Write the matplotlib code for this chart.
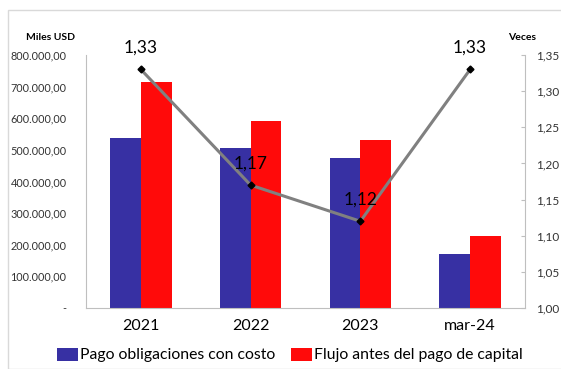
import matplotlib.pyplot as plt
import matplotlib.ticker as mticker
import numpy as np
from matplotlib.patches import Rectangle

plt.rcParams['font.family'] = ['Lato', 'DejaVu Sans']

categories = ['2021', '2022', '2023', 'mar-24']
pago = [538000, 506000, 475000, 171000]
flujo = [715000, 592000, 532000, 228000]
veces = [1.33, 1.17, 1.12, 1.33]
veces_labels = ['1,33', '1,17', '1,12', '1,33']

blue = '#3730a3'
red = '#ff0a0a'

fig = plt.figure(figsize=(5.61, 3.69), dpi=100)
ax = fig.add_axes([86 / 561, 1 - 308 / 369, (525 - 86) / 561, (308 - 55) / 369])

x = np.arange(len(categories))
w = 0.28
ax.bar(x - w / 2, pago, w, color=blue, label='Pago obligaciones con costo')
ax.bar(x + w / 2, flujo, w, color=red, label='Flujo antes del pago de capital')
ax.set_xlim(-0.5, 3.5)
ax.set_ylim(0, 800000)
ax.set_xticks(x)
ax.set_xticklabels(categories, fontsize=11.5)
ax.set_yticks(np.arange(0, 800001, 100000))


def fmt_left(v, pos):
    if v == 0:
        return '-'
    s = '{:,.2f}'.format(v)
    return s.replace(',', 'X').replace('.', ',').replace('X', '.')


ax.yaxis.set_major_formatter(mticker.FuncFormatter(fmt_left))
ax.tick_params(axis='y', length=0, labelsize=7.8, colors='#333333', pad=14)
ax.tick_params(axis='x', length=0, pad=8)
for s in ['top', 'right']:
    ax.spines[s].set_visible(False)
ax.spines['left'].set_color('#bfbfbf')
ax.spines['bottom'].set_color('#bfbfbf')

ax2 = ax.twinx()
ax2.plot(x, veces, color='#808080', lw=2.2, marker='D', markersize=3.5,
         markerfacecolor='black', markeredgecolor='black')
ax2.set_ylim(1.0, 1.35)
ax2.set_yticks(np.arange(1.0, 1.351, 0.05))
ax2.yaxis.set_major_formatter(mticker.FuncFormatter(lambda v, p: '{:.2f}'.format(v).replace('.', ',')))
ax2.tick_params(axis='y', direction='in', length=3, color='#bfbfbf', labelsize=8.5, colors='#333333', pad=8)
for s in ['top', 'left', 'bottom']:
    ax2.spines[s].set_visible(False)
ax2.spines['right'].set_color('#bfbfbf')
for xi, v, lab in zip(x, veces, veces_labels):
    ax2.annotate(lab, (xi, v), xytext=(0, 10), textcoords='offset points',
                 ha='center', va='bottom', fontsize=12.5)

fig.text(75 / 561, 1 - 38 / 369, 'Miles USD', fontsize=7.5, fontweight='bold', ha='right', va='center')
fig.text(508 / 561, 1 - 38 / 369, 'Veces', fontsize=7.5, fontweight='bold', ha='left', va='center')

h1, l1 = ax.get_legend_handles_labels()
fig.legend(h1, l1, loc='center', bbox_to_anchor=(290 / 561, 1 - 355 / 369), ncol=2,
           frameon=False, fontsize=11.3, handlelength=1.3, handleheight=0.9,
           handletextpad=0.15, columnspacing=1.0)

fig.patches.append(Rectangle((8 / 561, 0), 1, 1 - 10 / 369, transform=fig.transFigure,
                             fill=False, edgecolor='#d9d9d9', lw=1))

fig.savefig('out.png', dpi=100)
